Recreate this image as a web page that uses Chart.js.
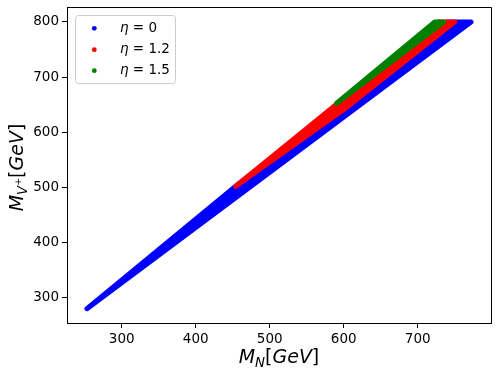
<!DOCTYPE html>
<html><head><meta charset="utf-8">
<script src="https://cdn.jsdelivr.net/npm/chart.js@4.4.1/dist/chart.umd.min.js"></script>
<style>html,body{margin:0;padding:0;background:#fff;}</style>
</head><body>
<canvas id="c" width="499" height="378"></canvas>
<script>
// Legend labels and colours
const etaLabels = ['η = 0', 'η = 1.2', 'η = 1.5'];
const etaColors = ['#0000ff', '#ff0000', '#008000'];

// Outline of each scatter cloud (marker centres)
// eta = 0 (blue)
const blueMN = [253, 772, 740, 454, 253];
const blueMV = [280, 800, 800, 502, 280];
// eta = 1.2 (red)
const redMN = [454, 600, 750, 728, 585, 454];
const redMV = [502, 641, 800, 800, 645, 502];
// eta = 1.5 (green)
const greenMN = [590, 735, 723, 590];
const greenMV = [652, 800, 800, 652];

// Axes
const xTicks = [300, 400, 500, 600, 700];
const yTicks = [300, 400, 500, 600, 700, 800];
const xRange = [226, 799];
const yRange = [254, 827];

const toPts = (xs, ys) => xs.map((x, i) => ({x: x, y: ys[i]}));
const series = [toPts(blueMN, blueMV), toPts(redMN, redMV), toPts(greenMN, greenMV)];

const FONT = 'DejaVu Sans';

function drawParts(ctx, parts, x, y) {
  let total = 0;
  parts.forEach(p => { ctx.font = p.f; p.w = ctx.measureText(p.t).width; total += p.w; });
  let cx = x - total / 2;
  parts.forEach(p => {
    ctx.font = p.f;
    ctx.fillText(p.t, cx, y + (p.dy || 0));
    cx += p.w;
  });
}

const extras = {
  id: 'extras',
  afterDraw(chart) {
    const ctx = chart.ctx;
    const a = chart.chartArea;
    ctx.save();
    // spines (top and right)
    ctx.strokeStyle = '#000';
    ctx.lineWidth = 1;
    ctx.beginPath();
    ctx.moveTo(Math.round(a.left) + 0.5, Math.round(a.top) + 0.5);
    ctx.lineTo(Math.round(a.right) + 0.5, Math.round(a.top) + 0.5);
    ctx.lineTo(Math.round(a.right) + 0.5, Math.round(a.bottom) + 0.5);
    ctx.stroke();

    // legend
    const lx = 75.5, ly = 15.5, lw = 100, lh = 68;
    ctx.beginPath();
    ctx.roundRect(lx, ly, lw, lh, 3);
    ctx.fillStyle = 'rgba(255,255,255,0.8)';
    ctx.fill();
    ctx.strokeStyle = '#cccccc';
    ctx.stroke();
    const rows = [28.3, 49.7, 70.7];
    ctx.textBaseline = 'middle';
    ctx.textAlign = 'left';
    chart.data.datasets.forEach((ds, i) => {
      const y = rows[ds.legendRow];
      ctx.fillStyle = ds.borderColor;
      ctx.beginPath();
      ctx.arc(94.3, y, 2.4, 0, Math.PI * 2);
      ctx.fill();
      ctx.fillStyle = '#000';
      const lab = ds.label;
      ctx.font = 'italic 13.5px ' + FONT;
      ctx.fillText(lab[0], 120, y);
      const w = ctx.measureText(lab[0]).width;
      ctx.font = '13.5px ' + FONT;
      ctx.fillText(lab.slice(1), 120 + w, y);
    });

    // axis titles
    ctx.fillStyle = '#000';
    ctx.textBaseline = 'alphabetic';
    ctx.textAlign = 'left';
    const it = 'italic 19px ' + FONT, up = '19px ' + FONT;
    drawParts(ctx, [
      {t: 'M', f: it}, {t: 'N', f: 'italic 13.3px ' + FONT, dy: 4},
      {t: '[', f: up}, {t: 'GeV', f: it}, {t: ']', f: up}
    ], (a.left + a.right) / 2, 363);

    ctx.save();
    ctx.translate(22.5, 167.5);
    ctx.rotate(-Math.PI / 2);
    drawParts(ctx, [
      {t: 'M', f: it}, {t: 'V', f: 'italic 13.3px ' + FONT, dy: 4},
      {t: '+', f: '9.5px ' + FONT, dy: -2},
      {t: '[', f: up}, {t: 'GeV', f: it}, {t: ']', f: up}
    ], 0, 0);
    ctx.restore();
    ctx.restore();
  }
};

const orders = [3, 2, 1];
const datasets = series.map((pts, i) => ({
  label: etaLabels[i],
  data: pts,
  legendRow: i,
  order: orders[i],
  showLine: true,
  fill: 'shape',
  backgroundColor: etaColors[i],
  borderColor: etaColors[i],
  borderWidth: 5,
  borderJoinStyle: 'round',
  borderCapStyle: 'round',
  pointRadius: 0,
  pointHoverRadius: 0,
  tension: 0
}));

const tickFont = {family: FONT, size: 13.5};

new Chart(document.getElementById('c'), {
  type: 'scatter',
  data: {datasets: datasets},
  options: {
    responsive: false,
    animation: false,
    devicePixelRatio: 1,
    layout: {padding: {top: 7, right: 8, left: 0, bottom: 0}},
    plugins: {legend: {display: false}, tooltip: {enabled: false}},
    scales: {
      x: {
        type: 'linear', min: xRange[0], max: xRange[1],
        afterBuildTicks: s => { s.ticks = xTicks.map(v => ({value: v})); },
        afterFit: s => { s.height = 55; s.paddingLeft = 0; s.paddingRight = 0; },
        ticks: {color: '#000', font: tickFont, padding: 3, maxRotation: 0, autoSkip: false},
        grid: {drawOnChartArea: false, tickLength: 5, tickColor: '#000', tickWidth: 1},
        border: {color: '#000', width: 1}
      },
      y: {
        type: 'linear', min: yRange[0], max: yRange[1],
        afterBuildTicks: s => { s.ticks = yTicks.map(v => ({value: v})); },
        afterFit: s => { s.width = 67; s.paddingTop = 0; s.paddingBottom = 0; },
        ticks: {color: '#000', font: tickFont, padding: 3, autoSkip: false},
        grid: {drawOnChartArea: false, tickLength: 5, tickColor: '#000', tickWidth: 1},
        border: {color: '#000', width: 1}
      }
    }
  },
  plugins: [extras]
});
</script>
</body></html>
